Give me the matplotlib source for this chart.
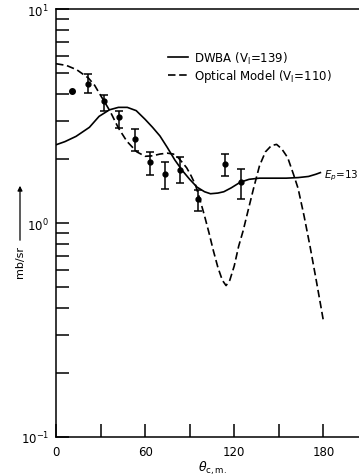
import matplotlib
matplotlib.use("Agg")
import matplotlib.pyplot as plt
from matplotlib.ticker import FixedLocator, NullFormatter

# DWBA curve (solid)
dwba_ang = [0, 6, 13.5, 22.5, 29, 36, 42, 48, 54, 60, 65, 70, 75, 80, 85, 90, 95,
            100, 104, 109, 113, 118, 124, 130, 137, 145, 155, 163, 170, 175, 178]
dwba_val = [2.32, 2.40, 2.54, 2.80, 3.15, 3.38, 3.47, 3.47, 3.35, 3.05, 2.80, 2.55,
            2.25, 1.97, 1.76, 1.60, 1.47, 1.40, 1.37, 1.38, 1.40, 1.46, 1.55, 1.60,
            1.62, 1.62, 1.62, 1.63, 1.65, 1.69, 1.72]

# optical model curve (dashed)
opt_ang = [0, 7, 14, 21.8, 26, 29.7, 33, 36.4, 42, 47.7, 54.4, 60, 65, 70, 75, 79,
           82, 85, 88, 91, 94, 97, 100, 103, 106, 109, 112, 114.5, 117, 120, 123,
           126, 129, 133, 137, 141, 145, 148.5, 152, 156, 160, 163, 167, 171, 175,
           178, 180]
opt_val = [5.55, 5.45, 5.2, 4.76, 4.4, 3.98, 3.65, 3.33, 2.78, 2.41, 2.15, 2.05,
           2.06, 2.10, 2.12, 2.10, 2.03, 1.92, 1.81, 1.66, 1.50, 1.28, 1.08, 0.90,
           0.74, 0.62, 0.54, 0.51, 0.54, 0.63, 0.78, 0.92, 1.12, 1.45, 1.85, 2.15,
           2.30, 2.33, 2.22, 2.02, 1.68, 1.45, 1.08, 0.78, 0.55, 0.42, 0.35]

# measured points
pt_ang = [21.8, 32.1, 42.7, 53.5, 63.4, 73.5, 83.6, 95.3, 113.9, 124.5]
pt_val = [4.46, 3.70, 3.13, 2.47, 1.92, 1.69, 1.77, 1.29, 1.89, 1.55]
pt_lo = [4.05, 3.34, 2.78, 2.17, 1.68, 1.44, 1.54, 1.14, 1.65, 1.29]
pt_hi = [4.97, 3.98, 3.34, 2.75, 2.15, 1.93, 2.03, 1.43, 2.11, 1.79]
# point without error bar
single_ang = [10.6]
single_val = [4.15]

fig = plt.figure(figsize=(3.59, 4.77), dpi=100)
ax = fig.add_axes([56/359, 1-438/477, 1-56/359, 428/477])

ax.plot(dwba_ang, dwba_val, color='black', lw=1.2, label='DWBA (V$_\\mathregular{I}$=139)')
ax.plot(opt_ang, opt_val, color='black', lw=1.2, dashes=(4.5, 2.2),
        label='Optical Model (V$_\\mathregular{I}$=110)')
yerr = [[v - l for v, l in zip(pt_val, pt_lo)], [h - v for v, h in zip(pt_val, pt_hi)]]
ax.errorbar(pt_ang, pt_val, yerr=yerr, fmt='o', color='black', ms=3.5,
            elinewidth=1.1, capsize=3, capthick=1.1)
ax.plot(single_ang, single_val, 'o', color='black', ms=4)

ax.set_yscale('log')
ax.set_ylim(0.1, 10)
ax.set_xlim(0, 204)

ax.yaxis.set_major_locator(FixedLocator([0.1, 1, 10]))
ax.set_yticklabels(['10$^{-1}$', '10$^{0}$', '10$^{1}$'])
minors = [m * d for d in (0.1, 1) for m in range(2, 10)]
ax.yaxis.set_minor_locator(FixedLocator(minors))
ax.yaxis.set_minor_formatter(NullFormatter())

ax.set_xticks([0, 30, 60, 90, 120, 150, 180])
ax.set_xticklabels(['0', '', '60', '', '120', '', '180'])

ax.tick_params(axis='both', which='both', direction='in', length=9.5, width=1.1,
               labelsize=8.5, right=False, top=False)
ax.tick_params(axis='x', pad=6)
ax.tick_params(axis='y', pad=5)
ax.spines['right'].set_visible(False)
for s in ('left', 'bottom', 'top'):
    ax.spines[s].set_linewidth(1.1)

ax.text(180.5, 1.68, '$E_p$=13', fontsize=7.5, va='center', ha='left', clip_on=False)

ax.legend(loc='upper left', bbox_to_anchor=(0.335, 0.93), frameon=False, fontsize=8.5,
          handlelength=1.7, handletextpad=0.45, labelspacing=0.12)

fig.text(198/359, 1-468/477, r'$\theta_{\mathrm{c,m.}}$', fontsize=9, ha='left', va='center')
fig.text(20/359, 1-262/477, 'mb/sr', rotation=90, fontsize=8, ha='center', va='center')
ax.annotate('', xy=(20, 477-184), xycoords='figure pixels',
            xytext=(20, 477-244), textcoords='figure pixels',
            arrowprops=dict(arrowstyle='-|>', color='black', lw=0.9, mutation_scale=7))

fig.savefig('out.png', dpi=100)
